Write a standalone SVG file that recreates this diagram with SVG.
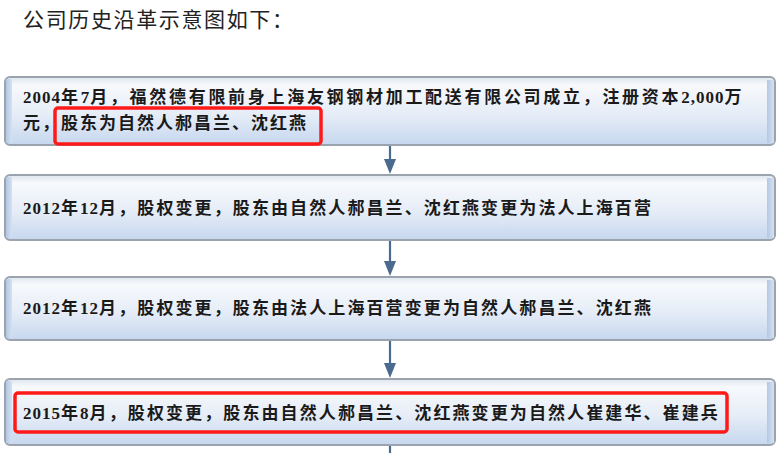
<svg xmlns="http://www.w3.org/2000/svg" width="783" height="453" viewBox="0 0 783 453">
  <defs>
    <linearGradient id="boxFill" x1="0" y1="0" x2="0" y2="1">
      <stop offset="0" stop-color="#dfe6ef"/>
      <stop offset="0.12" stop-color="#f7f9fc"/>
      <stop offset="0.55" stop-color="#e6edf7"/>
      <stop offset="1" stop-color="#c6d7ee"/>
    </linearGradient>
    <linearGradient id="sideFill" x1="0" y1="0" x2="1" y2="0">
      <stop offset="0" stop-color="#b4c8e3"/>
      <stop offset="1" stop-color="#d4e1f2"/>
    </linearGradient>
  </defs>
  <style>
    .box { fill: url(#boxFill); stroke: #9ba4ae; stroke-width: 2; }
    .side { fill: url(#sideFill); }
    .label { font-family: "Liberation Serif", "Noto Sans CJK SC", serif; font-size: 17px; font-weight: 600; fill: #1a1a1a; }
    .num { font-weight: bold; letter-spacing: 1px; }
    .hl { fill: none; stroke: #ff1a1a; stroke-width: 3.5; }
    .conn { stroke: #4a6a8e; stroke-width: 2.2; fill: none; }
    .head { fill: #4a6a8e; }
    .title { font-family: "Noto Sans CJK SC", "Noto Sans", sans-serif; font-size: 21px; fill: #222; }
  </style>

  <text class="title" x="23" y="27" textLength="270" lengthAdjust="spacing">公司历史沿革示意图如下：</text>

  <g id="connectors">
    <line class="conn" x1="390" y1="146" x2="390" y2="160"/>
    <path class="head" d="M384,159 L396,159 L390,174 Z"/>
    <line class="conn" x1="390" y1="241" x2="390" y2="262"/>
    <path class="head" d="M384,261 L396,261 L390,276 Z"/>
    <line class="conn" x1="390" y1="341" x2="390" y2="364"/>
    <path class="head" d="M384,363 L396,363 L390,378 Z"/>
    <line class="conn" x1="390" y1="446" x2="390" y2="453"/>
  </g>

  <g id="node1">
    <rect class="box" x="5" y="77" width="770" height="68" rx="5"/>
    <rect class="side" x="6" y="79" width="6" height="64"/>
    <rect class="side" x="767" y="80" width="7" height="63"/>
    <text class="label" x="23" y="103" letter-spacing="2.7"><tspan class="num">2004</tspan>年<tspan class="num">7</tspan>月，福然德有限前身上海友钢钢材加工配送有限公司成立，注册资本<tspan class="num">2,000</tspan>万</text>
    <text class="label" x="23" y="129" letter-spacing="2">元，股东为自然人郝昌兰、沈红燕</text>
    <rect class="hl" x="55" y="108" width="266" height="36" rx="3"/>
  </g>

  <g id="node2">
    <rect class="box" x="5" y="175" width="770" height="65" rx="5"/>
    <rect class="side" x="6" y="177" width="6" height="61"/>
    <rect class="side" x="767" y="178" width="7" height="60"/>
    <text class="label" x="23" y="214" letter-spacing="2.1"><tspan class="num">2012</tspan>年<tspan class="num">12</tspan>月，股权变更，股东由自然人郝昌兰、沈红燕变更为法人上海百营</text>
  </g>

  <g id="node3">
    <rect class="box" x="5" y="277" width="770" height="63" rx="5"/>
    <rect class="side" x="6" y="279" width="6" height="59"/>
    <rect class="side" x="767" y="280" width="7" height="58"/>
    <text class="label" x="23" y="314" letter-spacing="2.1"><tspan class="num">2012</tspan>年<tspan class="num">12</tspan>月，股权变更，股东由法人上海百营变更为自然人郝昌兰、沈红燕</text>
  </g>

  <g id="node4">
    <rect class="box" x="5" y="379" width="770" height="66" rx="5"/>
    <rect class="side" x="6" y="381" width="6" height="62"/>
    <rect class="side" x="767" y="382" width="7" height="61"/>
    <text class="label" x="23" y="419" letter-spacing="2.1"><tspan class="num">2015</tspan>年<tspan class="num">8</tspan>月，股权变更，股东由自然人郝昌兰、沈红燕变更为自然人崔建华、崔建兵</text>
    <rect class="hl" x="15" y="393" width="712" height="39" rx="3"/>
  </g>
</svg>
